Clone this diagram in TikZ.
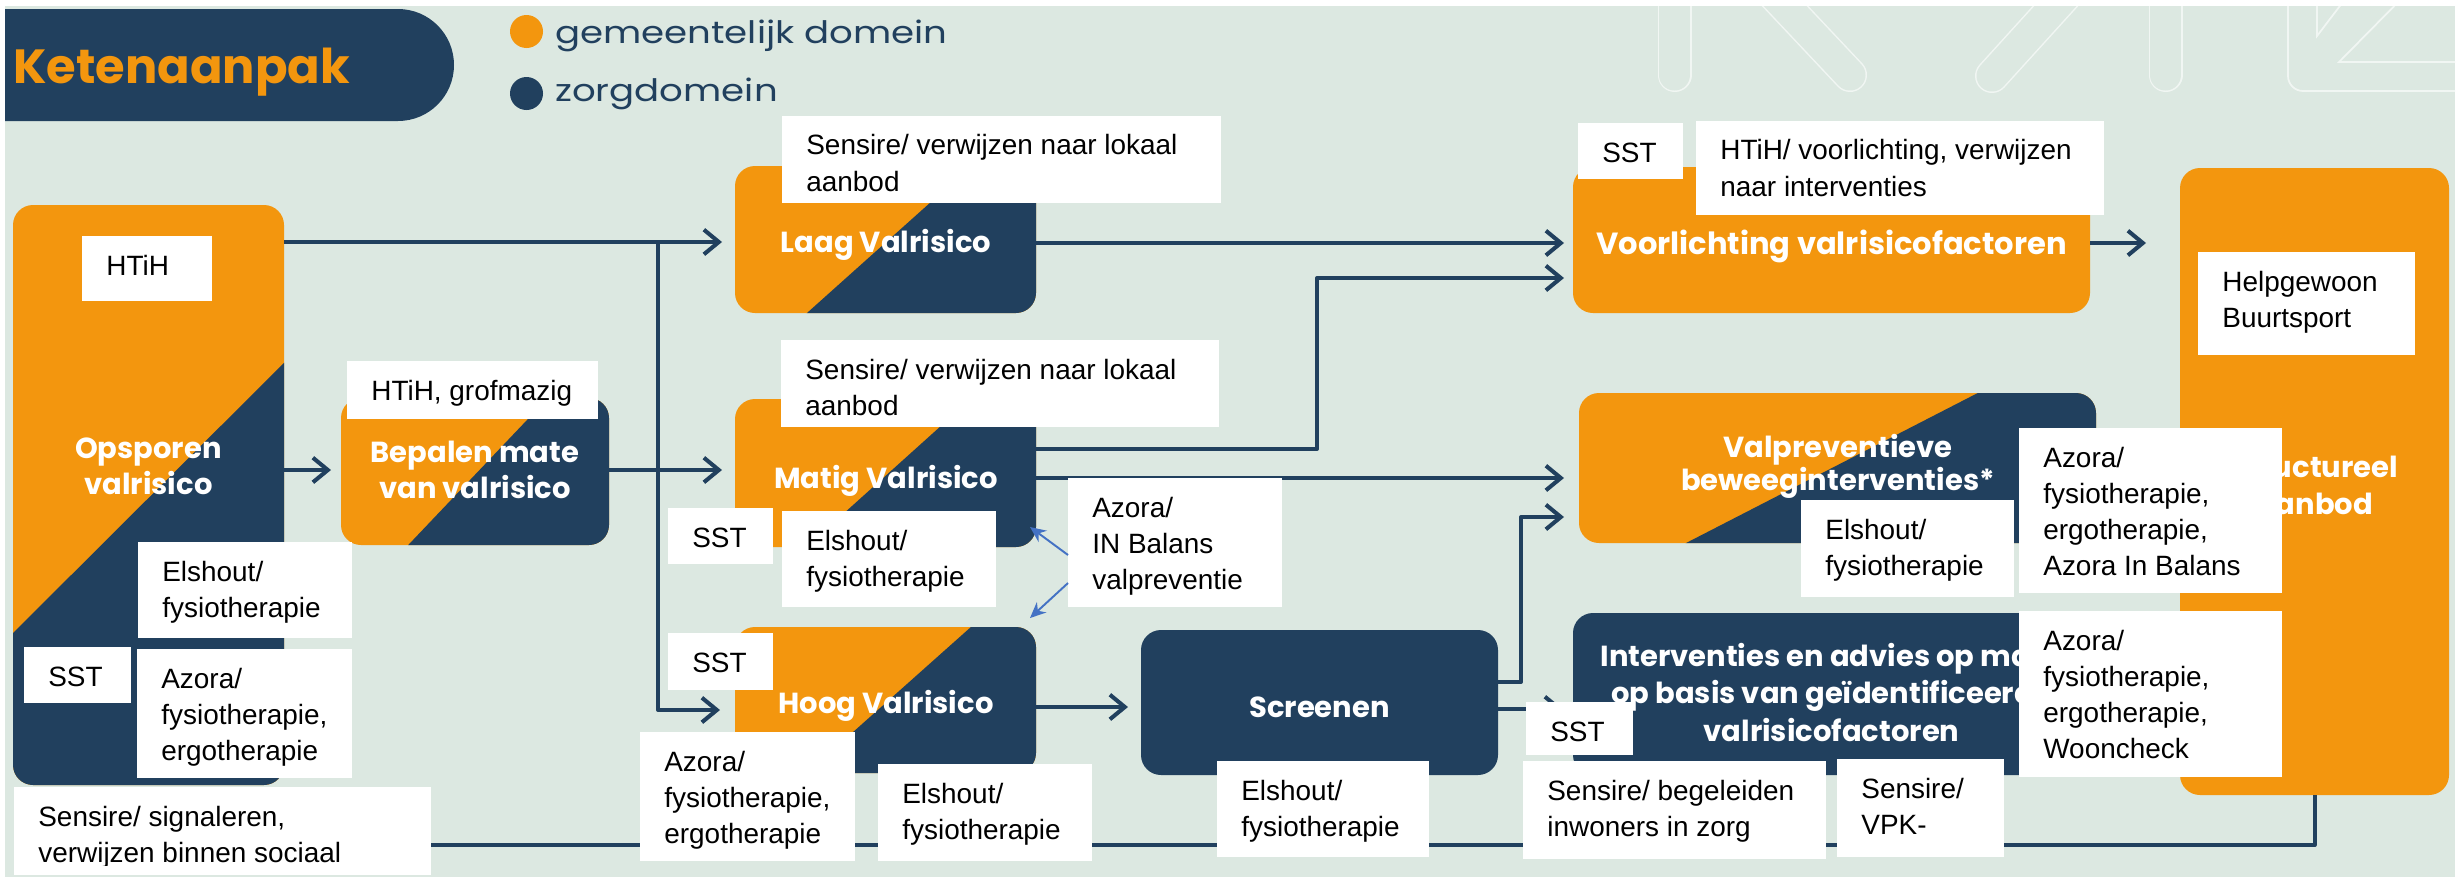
\documentclass[tikz,border=0pt]{standalone}
\usepackage{fontspec}
\setmainfont{Liberation Sans}
\newfontfamily\popfont{Poppins}
\newfontfamily\legfont[FakeStretch=1.2]{Poppins}
\usetikzlibrary{fit,arrows.meta}
\definecolor{bgc}{HTML}{DCE8E1}
\definecolor{orng}{HTML}{F3960E}
\definecolor{navy}{HTML}{21405E}
\definecolor{lnk}{HTML}{4472C4}
\tikzset{
  lblbox/.style={fill=white, inner sep=0pt, outer sep=0pt},
  lbltxt/.style={anchor=base west, inner sep=0pt, font=\fontsize{15.9}{20.5}\selectfont},
  ttl/.style={anchor=base, inner sep=0pt, text=white, font=\popfont\bfseries\fontsize{16.5}{21}\selectfont},
  obox/.style={fill=orng, inner sep=0pt, outer sep=0pt, rounded corners=0.4cm},
  nbox/.style={fill=navy, inner sep=0pt, outer sep=0pt, rounded corners=0.4cm},
  conn/.style={draw=navy, line width=2.3pt, line join=round},
  arr/.style={conn, -{Straight Barb[length=8.5pt,width=14pt,line width=2.3pt]}},
  blu/.style={draw=lnk, line width=1.1pt, -{Stealth[length=9pt,width=8pt]}},
  deco/.style={draw=white!60!bgc, line width=1pt},
  legtxt/.style={anchor=base west, inner sep=0pt, text=navy, font=\legfont\fontsize{17.6}{20}\selectfont},
}
\newcommand\mylbl[6]{%
  \node[lblbox, fit={(#2,#3) (#4,#5)}] (#1) {};
  \node[lbltxt] (#1t) at ([xshift=0.48cm,yshift=-0.78cm]#1.north west) {\begin{tabular}[t]{@{}l@{}}#6\end{tabular}};}
\newcommand\splitfill[2]{%
  \begin{scope}\clip[rounded corners=0.4cm] (#1.south west) rectangle (#1.north east);
  \fill[navy] #2;\end{scope}}
\begin{document}
\begin{tikzpicture}[x=0.02cm, y=-0.02cm]
\useasboundingbox (0,0) rectangle (2458,880);
\fill[white] (0,0) rectangle (2458,880);
\fill[bgc] (5,6) rectangle (2455,877);
% decoration
\begin{scope}
  \clip (5,6) rectangle (2455,877);
  \foreach \xa/\ya/\xb/\yb in {1674.5/-20/1674.5/75, 1770/-10/1850/75, 2070/-10/1992/76, 2165.5/-20/2165.5/75}{
    \draw[white!60!bgc, line width=0.68cm, line cap=round] (\xa,\ya) -- (\xb,\yb);
    \draw[bgc, line width=0.62cm, line cap=round] (\xa,\ya) -- (\xb,\yb);}
  \draw[deco, rounded corners=0.3cm] (2288,-10) |- (2470,91);
  \draw[deco] (2317,-10) -- (2317,36) -- (2352,-10);
  \draw[deco] (2410,-10) -- (2339,62) -- (2470,62);
\end{scope}
% header
\begin{scope}
  \clip (5,0) rectangle (600,200);
  \fill[navy, rounded corners=1.12cm] (-200,9) rectangle (454,121);
\end{scope}
\node[anchor=base west, inner sep=0pt, text=orng, font=\popfont\bfseries\fontsize{27.3}{30}\selectfont] (keten) at (13,83) {Ketenaanpak};
\node[circle, fill=orng, minimum size=0.66cm, inner sep=0pt] (dot1) at (526.5,31.5) {};
\node[circle, fill=navy, minimum size=0.66cm, inner sep=0pt] (dot2) at (526.5,93.5) {};
\node[legtxt] (leg1) at (555,43) {gemeentelijk domein};
\node[legtxt] (leg2) at (555,101) {zorgdomein};
% boxes
\node[obox, fit={(13,205) (284,785)}] (ops) {};
\splitfill{ops}{(300,347) -- (300,800) -- (0,800) -- (0,646) -- cycle}
\node[ttl] (opst) at (148.5,458) {\begin{tabular}[t]{@{}c@{}}Opsporen\\valrisico\end{tabular}};
\node[obox, fit={(341,398) (609,545)}] (bep) {};
\splitfill{bep}{(565,380) -- (700,380) -- (700,560) -- (394,560) -- cycle}
\node[ttl] (bept) at (475,462) {\begin{tabular}[t]{@{}c@{}}Bepalen mate\\van valrisico\end{tabular}};
\node[obox, fit={(735,166) (1036,313)}] (laag) {};
\splitfill{laag}{(989,150) -- (1100,150) -- (1100,330) -- (788,330) -- cycle}
\node[ttl] (laagt) at (886,252) {Laag Valrisico};
\node[obox, fit={(735,399) (1036,547)}] (matig) {};
\splitfill{matig}{(992,380) -- (1100,380) -- (1100,560) -- (792,560) -- cycle}
\node[ttl] (matigt) at (886,488) {Matig Valrisico};
\node[obox, fit={(735,627) (1036,773)}] (hoog) {};
\splitfill{hoog}{(990,610) -- (1100,610) -- (1100,790) -- (788,790) -- cycle}
\node[ttl] (hoogt) at (886,713) {Hoog Valrisico};
\node[nbox, fit={(1141,630) (1498,775)}] (scr) {};
\node[ttl] (scrt) at (1319.5,717) {Screenen};
\node[obox, fit={(1573,167) (2090,313)}] (voor) {};
\node[ttl, font=\popfont\bfseries\fontsize{17.4}{21}\selectfont] (voort) at (1831.5,254) {Voorlichting valrisicofactoren};
\node[obox, fit={(1579,393) (2096,543)}] (valp) {};
\splitfill{valp}{(2003,380) -- (2200,380) -- (2200,560) -- (1653,560) -- cycle}
\node[ttl, font=\popfont\bfseries\fontsize{16.5}{18.8}\selectfont] (valpt) at (1838,457) {\begin{tabular}[t]{@{}c@{}}Valpreventieve\\beweeginterventies*\end{tabular}};
\node[nbox, fit={(1573,613) (2090,775)}] (int) {};
\node[ttl, font=\popfont\bfseries\fontsize{16.5}{21.6}\selectfont] (intt) at (1831.5,666) {\begin{tabular}[t]{@{}c@{}}Interventies en advies op maat\\op basis van geïdentificeerde\\valrisicofactoren\end{tabular}};
\node[obox, fit={(2180,168) (2449,795)}] (str) {};
\node[ttl, font=\popfont\bfseries\fontsize{16.5}{21.6}\selectfont] (strt) at (2314.5,477) {\begin{tabular}[t]{@{}c@{}}Structureel\\aanbod\end{tabular}};
% bottom-left label (connector starts at its edge)
\node[lblbox, fit={(14,787) (431,875)}] (sensig) {};
\begin{scope}
  \clip (0,0) rectangle (2458,865);
  \node[lbltxt] (sensigt) at ([xshift=0.48cm,yshift=-0.78cm]sensig.north west) {\begin{tabular}[t]{@{}l@{}}Sensire/ signaleren,\\verwijzen binnen sociaal\end{tabular}};
\end{scope}
% connectors
\coordinate (j1) at (658,242);
\coordinate (k1) at (1317,278);
\coordinate (k2) at (1521,517);
\draw[arr, shorten >=0.26cm] (ops.east |- 0,242) -- (laag.west |- 0,242);
\draw[arr, shorten >=0.3cm] (j1) |- (hoog.west |- 0,710);
\draw[arr, shorten >=0.2cm] (ops.east |- 0,470) -- (bep.west |- 0,470);
\draw[arr, shorten >=0.26cm] (bep.east |- 0,470) -- (matig.west |- 0,470);
\draw[arr, shorten >=0.18cm] (laag.east |- 0,243) -- (voor.west |- 0,243);
\draw[arr, shorten >=0.18cm] (matig.east |- 0,449) -| (k1) -- (voor.west |- k1);
\draw[arr, shorten >=0.3cm] (matig.east |- 0,478) -- (valp.west |- 0,478);
\draw[arr, shorten >=0.26cm] (hoog.east |- 0,707) -- (scr.west |- 0,707);
\draw[arr, shorten >=0.3cm] (scr.east |- 0,682) -| (k2) -- (valp.west |- k2);
\draw[arr, shorten >=0.2cm] (scr.east |- 0,709) -- (int.west |- 0,709);
\draw[arr, shorten >=0.68cm] (voor.east |- 0,243) -- (str.west |- 0,243);
\draw[conn] (sensig.east |- 0,845) -| (str.south);
% labels
\mylbl{htih}{82}{236}{212}{301}{HTiH}
\mylbl{elsops}{138}{542}{352}{638}{Elshout/\\fysiotherapie}
\mylbl{sstops}{24}{647}{131}{703}{SST}
\mylbl{azops}{137}{649}{352}{778}{Azora/\\fysiotherapie,\\ergotherapie}
\mylbl{grof}{347}{361}{598}{419}{HTiH, grofmazig}
\mylbl{senA}{782}{116}{1221}{203}{Sensire/ verwijzen naar lokaal\\aanbod}
\mylbl{senB}{781}{340}{1219}{427}{Sensire/ verwijzen naar lokaal\\aanbod}
\mylbl{sstmat}{668}{508}{773}{564}{SST}
\mylbl{elsmat}{782}{511}{996}{607}{Elshout/\\fysiotherapie}
\coordinate (bt1) at (1030,527);
\coordinate (bt2) at (1030,618);
\mylbl{azin}{1068}{478}{1282}{607}{Azora/\\IN Balans\\valpreventie}
\draw[blu] (azin.west |- 0,555) -- (bt1);
\draw[blu] (azin.west |- 0,583) -- (bt2);
\mylbl{ssthoog}{668}{633}{773}{690}{SST}
\mylbl{azhoog}{640}{732}{855}{861}{Azora/\\fysiotherapie,\\ergotherapie}
\mylbl{elshoog}{878}{764}{1092}{861}{Elshout/\\fysiotherapie}
\mylbl{elsscr}{1217}{761}{1429}{857}{Elshout/\\fysiotherapie}
\mylbl{sstvoor}{1578}{123}{1683}{179}{SST}
\mylbl{htihvoor}{1696}{121}{2104}{215}{HTiH/ voorlichting, verwijzen\\naar interventies}
\mylbl{helpg}{2198}{252}{2415}{355}{Helpgewoon\\Buurtsport}
\mylbl{elsvalp}{1801}{500}{2014}{597}{Elshout/\\fysiotherapie}
\mylbl{azvalp}{2019}{428}{2282}{593}{Azora/\\fysiotherapie,\\ergotherapie,\\Azora In Balans}
\mylbl{sstint}{1526}{702}{1633}{755}{SST}
\mylbl{senbeg}{1523}{761}{1826}{859}{Sensire/ begeleiden\\inwoners in zorg}
\mylbl{vpk}{1837}{759}{2004}{857}{Sensire/\\VPK-}
\mylbl{azint}{2019}{611}{2282}{777}{Azora/\\fysiotherapie,\\ergotherapie,\\Wooncheck}
\end{tikzpicture}
\end{document}
